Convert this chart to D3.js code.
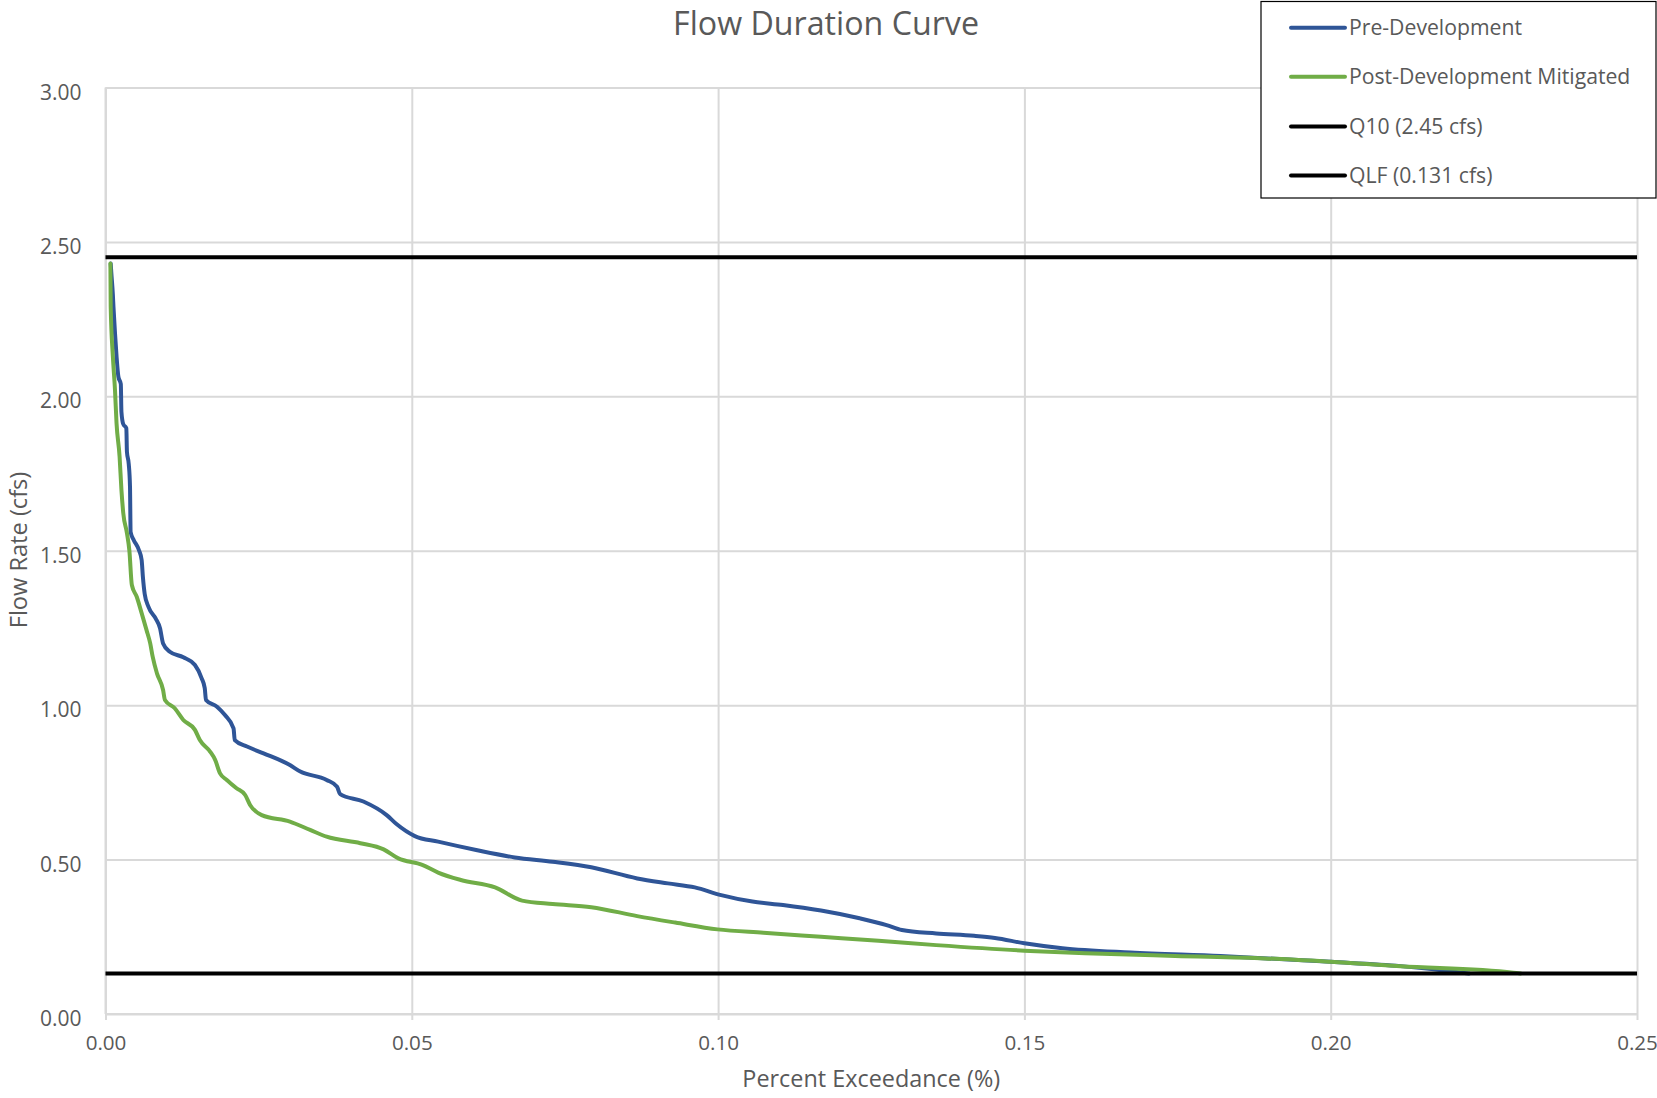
<!DOCTYPE html>
<html>
<head>
<meta charset="utf-8">
<script src="https://cdn.jsdelivr.net/npm/d3@7"></script>
<style>
  html, body { margin: 0; padding: 0; background: #ffffff; }
  svg { display: block; font-family: "Open Sans", "Noto Sans", sans-serif; }
</style>
</head>
<body>
<svg id="chart" width="1657" height="1098"></svg>
<script>
// Percent exceedance (%) vs flow rate (cfs)
const preDevExceedance = [0.00085, 0.00095, 0.0012, 0.0013, 0.00155, 0.0018, 0.0021, 0.0025, 0.0026, 0.0029,
  0.0034, 0.0035, 0.0038, 0.004, 0.0041, 0.0046, 0.0055, 0.0059, 0.0061, 0.0064,
  0.007, 0.0082, 0.0089, 0.0094, 0.0105, 0.0127, 0.0146, 0.0157, 0.0162, 0.0164,
  0.0182, 0.0195, 0.0209, 0.0211, 0.0231, 0.0258, 0.0301, 0.0318, 0.0361, 0.0378,
  0.0383, 0.0421, 0.0459, 0.0475, 0.0505, 0.0543, 0.0605, 0.0668, 0.073, 0.0793,
  0.0868, 0.0918, 0.0962, 0.1005, 0.1056, 0.1106, 0.1168, 0.1231, 0.1275, 0.13,
  0.1356, 0.1418, 0.1452, 0.15, 0.1562, 0.1673, 0.182, 0.20, 0.2114, 0.2187, 0.2226];
const preDevFlow = [2.43, 2.40, 2.33, 2.29, 2.205, 2.13, 2.064, 2.04, 1.95, 1.91,
  1.897, 1.82, 1.78, 1.707, 1.56, 1.535, 1.50, 1.47, 1.416, 1.36,
  1.319, 1.28, 1.249, 1.20, 1.173, 1.155, 1.13, 1.087, 1.055, 1.017,
  0.995, 0.968, 0.925, 0.887, 0.866, 0.844, 0.806, 0.785, 0.758, 0.736,
  0.712, 0.688, 0.644, 0.615, 0.576, 0.558, 0.531, 0.507, 0.493, 0.475,
  0.439, 0.423, 0.41, 0.385, 0.364, 0.353, 0.335, 0.31, 0.288, 0.272,
  0.261, 0.253, 0.246, 0.229, 0.213, 0.199, 0.188, 0.169, 0.155, 0.14, 0.131];

const postDevExceedance = [0.0008, 0.00085, 0.0012, 0.00155, 0.0018, 0.0023, 0.0026, 0.0029, 0.0035, 0.0039,
  0.0043, 0.0051, 0.0059, 0.0067, 0.0073, 0.0077, 0.0084, 0.0094, 0.0097, 0.0113,
  0.0127, 0.0146, 0.0154, 0.0171, 0.0179, 0.0187, 0.0198, 0.0214, 0.0228, 0.0236,
  0.0255, 0.0301, 0.0334, 0.0361, 0.0416, 0.0454, 0.0478, 0.0517, 0.0543, 0.058,
  0.0636, 0.068, 0.073, 0.0793, 0.0868, 0.093, 0.0999, 0.1074, 0.1168, 0.1262,
  0.1356, 0.15, 0.1599, 0.1746, 0.1893, 0.20, 0.2114, 0.2298, 0.231];
const postDevFlow = [2.43, 2.29, 2.13, 2.02, 1.913, 1.805, 1.697, 1.622, 1.557, 1.50,
  1.389, 1.351, 1.298, 1.243, 1.20, 1.157, 1.103, 1.049, 1.017, 0.99,
  0.952, 0.92, 0.887, 0.849, 0.823, 0.779, 0.758, 0.731, 0.709, 0.677,
  0.644, 0.623, 0.596, 0.574, 0.553, 0.533, 0.504, 0.483, 0.458, 0.434,
  0.41, 0.367, 0.356, 0.346, 0.317, 0.296, 0.274, 0.263, 0.25, 0.237,
  0.223, 0.205, 0.197, 0.188, 0.18, 0.169, 0.155, 0.134, 0.131];

// Threshold flows (cfs)
const q10Flow = 2.45;
const qlfFlow = 0.131;

const xTicks = [0, 0.05, 0.10, 0.15, 0.20, 0.25];
const yTicks = [0, 0.5, 1.0, 1.5, 2.0, 2.5, 3.0];

const legendLabels = ["Pre-Development", "Post-Development Mitigated", "Q10 (2.45 cfs)", "QLF (0.131 cfs)"];
const seriesColors = ["#2F5597", "#70AD47", "#000000", "#000000"];

const svg = d3.select("#chart");
const plot = { left: 105.5, right: 1637, top: 87.5, bottom: 1014 };

const x = d3.scaleLinear().domain([0, 0.25]).range([plot.left, plot.right]);
const y = d3.scaleLinear().domain([0, 3]).range([plot.bottom, plot.top]);

const gridColor = "#d9d9d9";
const textColor = "#595959";

// Horizontal gridlines + y tick labels
const yAxis = svg.append("g")
  .attr("transform", `translate(${plot.left},0)`)
  .call(d3.axisLeft(y).tickValues(yTicks).tickFormat(d3.format(".2f"))
    .tickSize(-(plot.right - plot.left)).tickPadding(24));
yAxis.select(".domain").remove();
yAxis.selectAll(".tick line").attr("stroke", gridColor).attr("stroke-width", 2);
yAxis.selectAll(".tick text")
  .attr("fill", textColor).attr("font-size", 21).attr("dy", "0.55em")
  .attr("font-family", "Open Sans");

// Vertical gridlines + x tick labels
const xAxis = svg.append("g")
  .attr("transform", `translate(0,${plot.bottom})`)
  .call(d3.axisBottom(x).tickValues(xTicks).tickFormat(d3.format(".2f"))
    .tickSizeInner(-(plot.bottom - plot.top)).tickSizeOuter(0).tickPadding(21));
xAxis.select(".domain").remove();
xAxis.selectAll(".tick line").attr("stroke", gridColor).attr("stroke-width", 2)
  .attr("y2", -(plot.bottom - plot.top)).attr("y1", 6);
xAxis.selectAll(".tick text")
  .attr("fill", textColor).attr("font-size", 20.6).attr("font-family", "Open Sans");

// Axis lines
svg.append("line").attr("x1", plot.left).attr("x2", plot.right)
  .attr("y1", plot.bottom).attr("y2", plot.bottom)
  .attr("stroke", gridColor).attr("stroke-width", 2);
svg.append("line").attr("x1", plot.left).attr("x2", plot.left)
  .attr("y1", plot.top).attr("y2", plot.bottom)
  .attr("stroke", gridColor).attr("stroke-width", 2);

// Flow duration curves
const line = d3.line()
  .x(d => x(d[0]))
  .y(d => y(d[1]))
  .curve(d3.curveMonotoneX);

const preDev = d3.zip(preDevExceedance, preDevFlow);
const postDev = d3.zip(postDevExceedance, postDevFlow);

svg.append("path").datum(preDev)
  .attr("d", line).attr("fill", "none")
  .attr("stroke", seriesColors[0]).attr("stroke-width", 4)
  .attr("stroke-linejoin", "round").attr("stroke-linecap", "round");

svg.append("path").datum(postDev)
  .attr("d", line).attr("fill", "none")
  .attr("stroke", seriesColors[1]).attr("stroke-width", 4)
  .attr("stroke-linejoin", "round").attr("stroke-linecap", "round");

// Threshold lines
[q10Flow, qlfFlow].forEach(q => {
  svg.append("line")
    .attr("x1", x(0)).attr("x2", x(0.25))
    .attr("y1", y(q)).attr("y2", y(q))
    .attr("stroke", "#000").attr("stroke-width", 4);
});

// Title
svg.append("text")
  .attr("x", 826).attr("y", 34.5)
  .attr("text-anchor", "middle")
  .attr("fill", textColor).attr("font-size", 32.2)
  .text("Flow Duration Curve");

// Axis titles
svg.append("text")
  .attr("x", (plot.left + plot.right) / 2).attr("y", 1087)
  .attr("text-anchor", "middle")
  .attr("fill", textColor).attr("font-size", 23.4)
  .text("Percent Exceedance (%)");

svg.append("text")
  .attr("transform", "translate(27,550) rotate(-90)")
  .attr("text-anchor", "middle")
  .attr("fill", textColor).attr("font-size", 23.6)
  .text("Flow Rate (cfs)");

// Legend
const legend = svg.append("g");
legend.append("rect")
  .attr("x", 1261).attr("y", 1.5).attr("width", 395).attr("height", 196.5)
  .attr("fill", "#fff").attr("stroke", "#000").attr("stroke-width", 1.2);

const legendRows = [27.7, 76.7, 126.5, 175.5];
legendLabels.forEach((label, i) => {
  legend.append("line")
    .attr("x1", 1291).attr("x2", 1345)
    .attr("y1", legendRows[i]).attr("y2", legendRows[i])
    .attr("stroke", seriesColors[i]).attr("stroke-width", 4)
    .attr("stroke-linecap", "round");
  legend.append("text")
    .attr("x", 1349).attr("y", legendRows[i])
    .attr("dy", "0.35em")
    .attr("fill", textColor).attr("font-size", 21.2)
    .text(label);
});
</script>
</body>
</html>
